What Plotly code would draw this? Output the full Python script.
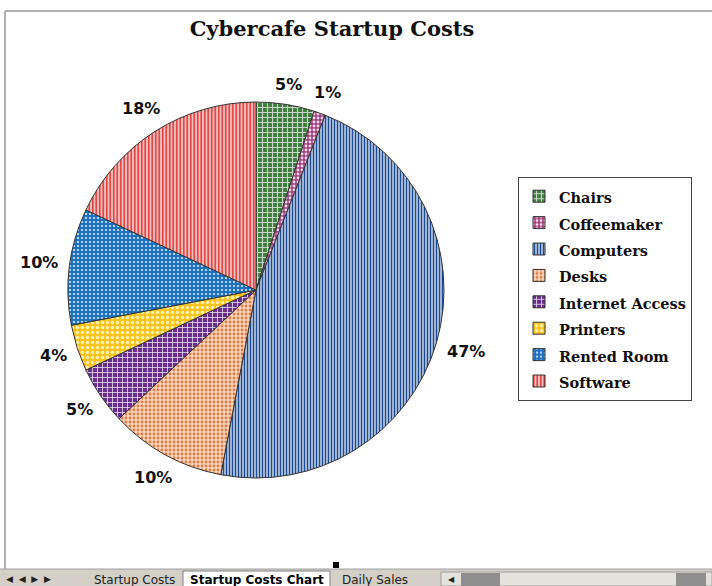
import math
import plotly.graph_objects as go

W, H = 712, 586

categories = ["Chairs", "Coffeemaker", "Computers", "Desks", "Internet Access",
              "Printers", "Rented Room", "Software"]
values = [5, 1, 47, 10, 5, 4, 10, 18]

bg_colors = ["#3e7d3c", "#a0407a", "#f4f6fb", "#f6d6bc", "#6a2f8a", "#f6c21c", "#1f72c0", "#f6cccc"]
fg_colors = ["#c8d6c8", "#f2d8ea", "#1e4c92", "#e07a48", "#e8dcf0", "#fff0a8", "#d8ecfa", "#e04a46"]
shapes_pat = ["+", ".", "|", ".", "+", ".", ".", "|"]
sizes_pat = [5, 4, 3, 4, 5, 5, 4, 3.5]
solid_pat = [0.4, 0.4, 0.6, 0.4, 0.3, 0.4, 0.22, 0.55]

def px(x):
    return x / W

def py(y):
    return 1 - y / H

cx, cy, r = 256, 290, 188

fig = go.Figure(go.Pie(
    labels=[f'<span style="font-size:14.5px">{c}</span>' for c in categories],
    values=values,
    sort=False,
    direction="clockwise",
    rotation=0,
    textinfo="none",
    textposition="none",
    marker=dict(
        colors=bg_colors,
        line=dict(color="#333333", width=1),
        pattern=dict(shape=shapes_pat, fgcolor=fg_colors, bgcolor=bg_colors,
                     size=sizes_pat, solidity=solid_pat, fillmode="replace", fgopacity=1),
    ),
    domain=dict(x=[px(cx - r), px(cx + r)], y=[py(cy + r), py(cy - r)]),
    hovertemplate="%{label}<br>%{percent}<extra></extra>",
))

# percentage labels placed outside each slice (Excel style, no leader lines)
total = sum(values)
annotations = []
cum = 0.0
for v in values:
    mid = (cum + v / 2) / total * 2 * math.pi
    cum += v
    s, c = math.sin(mid), math.cos(mid)
    txt = f"{round(100 * v / total)}%"
    w, h, gap = 13 * len(txt), 16, 10
    rc = r + gap + (w / 2) * abs(s) + (h / 2) * abs(c)
    tx = cx + rc * s
    ty = cy - rc * c
    annotations.append(dict(
        text=f"<b>{txt}</b>", x=px(tx), y=py(ty),
        xref="paper", yref="paper", xanchor="center", yanchor="middle",
        showarrow=False, font=dict(family="DejaVu Sans", size=16, color="#111111")))

shapes = [
    # chart area border
    dict(type="line", xref="paper", yref="paper", x0=px(5), x1=px(712), y0=py(11), y1=py(11),
         line=dict(color="#9a9a9a", width=1.5)),
    dict(type="line", xref="paper", yref="paper", x0=px(5), x1=px(5), y0=py(11), y1=py(569),
         line=dict(color="#9a9a9a", width=1.5)),
    # tab bar
    dict(type="rect", xref="paper", yref="paper", x0=0, x1=1, y0=py(586), y1=py(569),
         fillcolor="#d4d0c8", line=dict(width=0)),
    dict(type="line", xref="paper", yref="paper", x0=0, x1=1, y0=py(569), y1=py(569),
         line=dict(color="#a0a0a0", width=1)),
    # selection handle
    dict(type="rect", xref="paper", yref="paper", x0=px(333), x1=px(339), y0=py(568), y1=py(562),
         fillcolor="#000000", line=dict(width=0)),
    # scrollbar
    dict(type="rect", xref="paper", yref="paper", x0=px(441), x1=px(712), y0=py(586), y1=py(572),
         fillcolor="#e4e2dc", line=dict(color="#a0a0a0", width=1)),
    dict(type="rect", xref="paper", yref="paper", x0=px(461), x1=px(500), y0=py(586), y1=py(573),
         fillcolor="#8f8f8f", line=dict(width=0)),
    dict(type="rect", xref="paper", yref="paper", x0=px(676), x1=px(706), y0=py(586), y1=py(573),
         fillcolor="#8f8f8f", line=dict(width=0)),
    # active tab
    dict(type="rect", xref="paper", yref="paper", x0=px(183), x1=px(330), y0=py(587), y1=py(571),
         fillcolor="#ffffff", line=dict(color="#808080", width=1)),
]

annotations += [
    dict(text="◀  ◀  ▶  ▶", x=px(4), y=py(579), xref="paper", yref="paper", xanchor="left",
         yanchor="middle", showarrow=False, font=dict(family="DejaVu Sans", size=9, color="#222")),
    dict(text="Startup Costs", x=px(92), y=py(580), xref="paper", yref="paper", xanchor="left",
         yanchor="middle", showarrow=False, font=dict(family="DejaVu Sans", size=12, color="#222")),
    dict(text="<b>Startup Costs Chart</b>", x=px(188), y=py(580), xref="paper", yref="paper",
         xanchor="left", yanchor="middle", showarrow=False,
         font=dict(family="DejaVu Sans", size=12, color="#000")),
    dict(text="Daily Sales", x=px(340), y=py(580), xref="paper", yref="paper", xanchor="left",
         yanchor="middle", showarrow=False, font=dict(family="DejaVu Sans", size=12, color="#222")),
    dict(text="◀", x=px(446), y=py(579), xref="paper", yref="paper", xanchor="left",
         yanchor="middle", showarrow=False, font=dict(family="DejaVu Sans", size=8, color="#222")),
]

fig.update_layout(
    width=W, height=H,
    margin=dict(l=0, r=0, t=0, b=0),
    paper_bgcolor="white",
    title=dict(text="<b>Cybercafe Startup Costs</b>", x=px(332), xanchor="center",
               y=py(29), yanchor="middle",
               font=dict(family="DejaVu Serif", size=21, color="#111111")),
    showlegend=True,
    legend=dict(
        x=px(518), y=py(177), xanchor="left", yanchor="top",
        bordercolor="#444444", borderwidth=1, bgcolor="white",
        font=dict(family="DejaVu Serif", size=18, color="#111111", weight="bold"),
        itemwidth=30, tracegroupgap=0,
    ),
    shapes=shapes,
    annotations=annotations,
)

fig.write_html("out.html")
